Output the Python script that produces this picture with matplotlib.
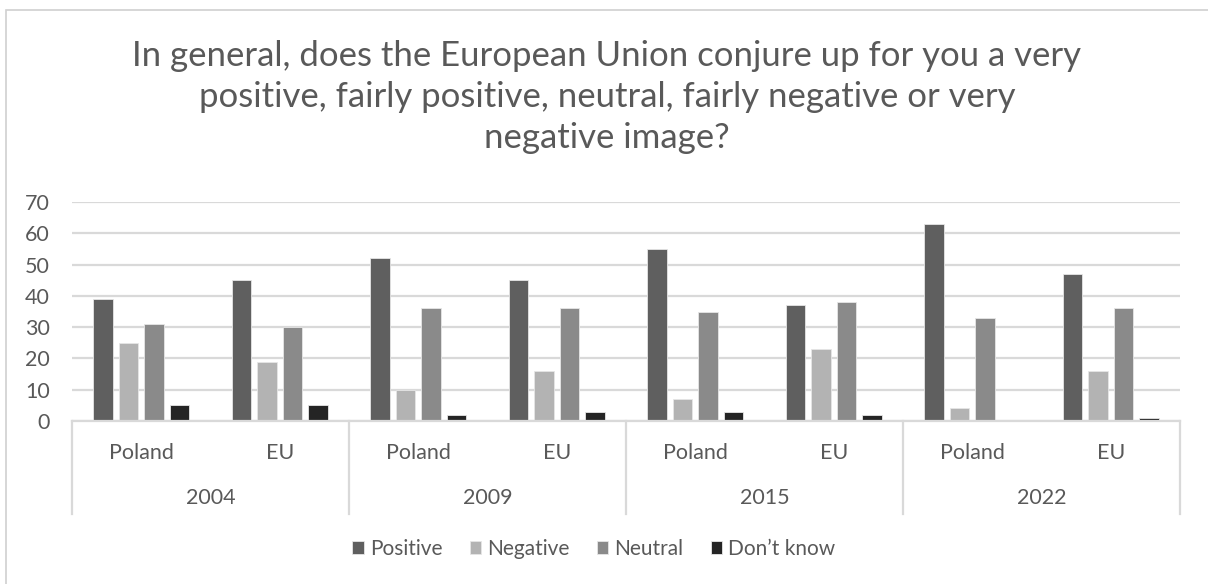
import matplotlib
matplotlib.use("Agg")
import matplotlib.pyplot as plt
from matplotlib.patches import Rectangle
import matplotlib.transforms as mtransforms
import numpy as np

plt.rcParams['font.family'] = ['Lato', 'DejaVu Sans']

years = ["2004", "2009", "2015", "2022"]
regions = ["Poland", "EU"]
series_names = ["Positive", "Negative", "Neutral", "Don\u2019t know"]
positive = [39, 45, 52, 45, 55, 37, 63, 47]
negative = [25, 19, 10, 16, 7, 23, 4, 16]
neutral = [31, 30, 36, 36, 35, 38, 33, 36]
dont_know = [5, 5, 2, 3, 3, 2, 0, 1]
yticks = [0, 10, 20, 30, 40, 50, 60, 70]
title = ("In general, does the European Union conjure up for you a very\n"
         "positive, fairly positive, neutral, fairly negative or very\n"
         "negative image?")

colors = ["#5f5f5f", "#b3b3b3", "#8a8a8a", "#242424"]
text_color = "#595959"
grid_color = "#d9d9d9"

W, H = 1208, 584
fig = plt.figure(figsize=(W / 100, H / 100), dpi=100)
fig.patch.set_facecolor("white")

# chart border
fig.patches.append(Rectangle((6 / W, -0.05), 1.2, 1 - 10 / H + 0.05,
                             transform=fig.transFigure, fill=False,
                             edgecolor="#d0d0d0", linewidth=1.2))

ax = fig.add_axes([72 / W, (H - 421) / H, 1108 / W, 219 / H])
n_cat = len(positive)
x = np.arange(n_cat) + 0.5
pitch = 0.183
width = 0.141
all_series = [positive, negative, neutral, dont_know]
handles = []
for i, (vals, c, name) in enumerate(zip(all_series, colors, series_names)):
    offs = (i - 1.5) * pitch
    b = ax.bar(x + offs, vals, width=width, color=c, edgecolor="#e6e6e6",
               linewidth=0.6, label=name, zorder=3)
    handles.append(b)

ax.set_xlim(0, n_cat)
ax.set_ylim(0, 70)
ax.set_yticks(yticks)
ax.set_yticklabels([str(t) for t in yticks])
ax.tick_params(axis="y", length=0, pad=16, labelsize=15.5, labelcolor=text_color)
ax.set_xticks([])
ax.grid(axis="y", color=grid_color, linewidth=1.6, zorder=0)
for s in ["top", "right", "left"]:
    ax.spines[s].set_visible(False)
ax.spines["bottom"].set_color(grid_color)
ax.spines["bottom"].set_linewidth(1.6)
ax.spines["bottom"].set_zorder(4)

trans = mtransforms.blended_transform_factory(ax.transData, ax.transAxes)
for k in range(len(years) + 1):
    ax.plot([2 * k, 2 * k], [0, -0.425], transform=trans, color=grid_color,
            linewidth=1.6, clip_on=False)
for j in range(n_cat):
    ax.text(x[j], -0.146, regions[j % 2], transform=trans, ha="center",
            va="center", fontsize=15.5, color=text_color)
for k, yr in enumerate(years):
    ax.text(2 * k + 1, -0.352, yr, transform=trans, ha="center",
            va="center", fontsize=15.5, color=text_color)

fig.text(607 / W, 1 - 97 / H, title, ha="center", va="center",
         fontsize=25, color=text_color, linespacing=1.36)

leg = fig.legend(handles=handles, labels=series_names, loc="center",
                 bbox_to_anchor=(594 / W, 1 - 549 / H), ncol=4, frameon=False,
                 fontsize=15, handlelength=0.55, handleheight=0.55,
                 handletextpad=0.3, columnspacing=1.3)
for t in leg.get_texts():
    t.set_color(text_color)

fig.savefig("out.png", dpi=100, facecolor="white")
